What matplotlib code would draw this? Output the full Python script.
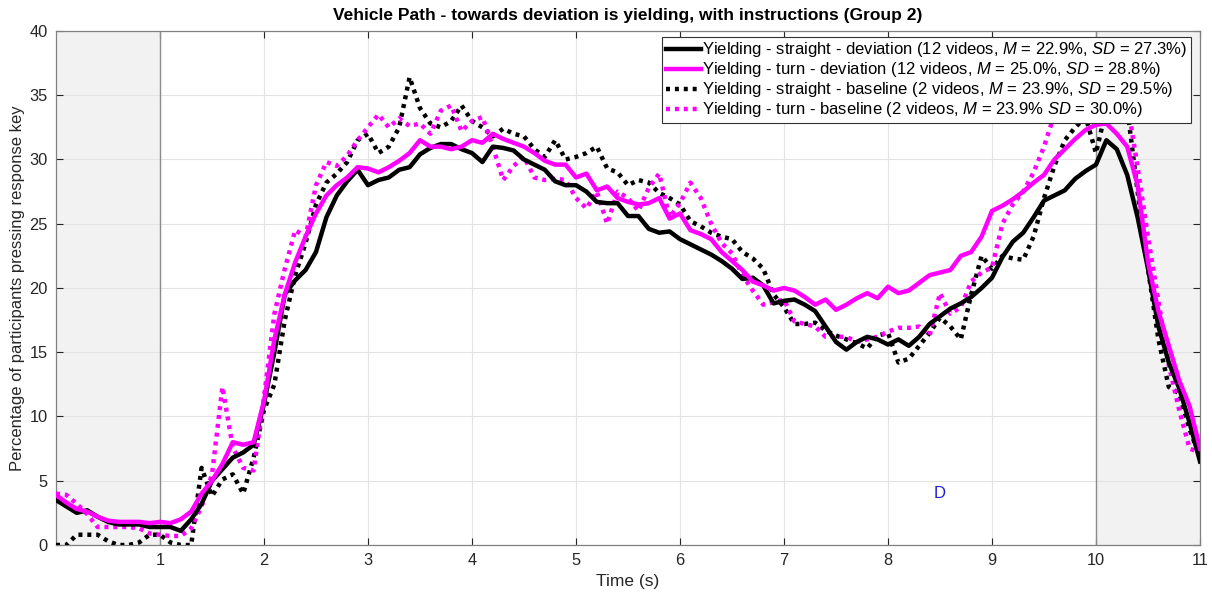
import numpy as np
import matplotlib
matplotlib.use("Agg")
import matplotlib.pyplot as plt

plt.rcParams['font.family'] = ['Liberation Sans', 'DejaVu Sans']
plt.rcParams['mathtext.fontset'] = 'custom'
plt.rcParams['mathtext.it'] = 'Liberation Sans:italic'
plt.rcParams['mathtext.rm'] = 'Liberation Sans'

# Time axis (s), sampled every 0.1 s
time_s = np.round(np.arange(0, 111) * 0.1, 1)

straight_deviation = [
    3.5, 3.0, 2.5, 2.7, 2.2, 1.8, 1.6, 1.6, 1.6, 1.4,
    1.4, 1.4, 1.1, 2.0, 3.2, 5.0, 5.9, 6.8, 7.2, 7.8,
    11.0, 15.0, 19.5, 20.6, 21.4, 22.8, 25.5, 27.2, 28.3, 29.2,
    28.0, 28.4, 28.6, 29.2, 29.4, 30.4, 30.9, 31.2, 31.2, 30.8,
    30.5, 29.8, 31.0, 30.9, 30.7, 30.0, 29.6, 29.2, 28.3, 28.0,
    28.0, 27.5, 26.7, 26.6, 26.6, 25.6, 25.6, 24.6, 24.3, 24.4,
    23.8, 23.4, 23.0, 22.6, 22.1, 21.5, 20.7, 20.8, 20.2, 18.8,
    19.0, 19.1, 18.7, 18.2, 17.0, 15.8, 15.2, 15.8, 16.2, 16.0,
    15.6, 16.0, 15.5, 16.2, 17.2, 17.8, 18.4, 18.8, 19.3, 20.0,
    20.8, 22.4, 23.6, 24.3, 25.5, 26.8, 27.2, 27.6, 28.5, 29.1,
    29.6, 31.5, 30.8, 28.8, 25.5, 21.5, 17.0, 14.2, 12.2, 9.5,
    6.5,
]

turn_deviation = [
    3.9, 3.3, 2.8, 2.6, 2.2, 1.9, 1.8, 1.8, 1.8, 1.7,
    1.8, 1.7, 2.0, 2.6, 4.0, 5.0, 6.3, 8.0, 7.8, 8.0,
    11.2, 16.0, 19.5, 22.0, 24.0, 25.8, 27.2, 28.0, 28.6, 29.4,
    29.3, 29.0, 29.4, 29.9, 30.5, 31.5, 31.0, 31.0, 30.8, 31.0,
    31.5, 31.3, 32.0, 31.6, 31.3, 31.0, 30.5, 29.9, 29.6, 29.6,
    28.6, 28.9, 27.6, 27.9, 27.0, 26.7, 26.5, 26.6, 27.0, 25.4,
    25.8, 24.5, 24.2, 23.8, 22.8, 22.1, 21.4, 20.5, 20.2, 19.8,
    20.0, 19.8, 19.3, 18.7, 19.1, 18.3, 18.7, 19.2, 19.6, 19.2,
    20.1, 19.6, 19.8, 20.4, 21.0, 21.2, 21.4, 22.5, 22.8, 24.0,
    26.0, 26.4, 26.9, 27.5, 28.2, 28.8, 30.0, 30.8, 31.6, 32.3,
    32.7, 32.8, 32.0, 31.0, 28.0, 22.0, 18.2, 15.5, 12.8, 10.8,
    7.5,
]

straight_baseline = [
    0.0, 0.0, 0.8, 0.8, 0.8, 0.3, 0.0, 0.0, 0.2, 0.8,
    0.8, 0.2, 0.0, 0.0, 6.0, 3.8, 5.1, 5.5, 4.0, 6.8,
    10.5, 12.5, 17.5, 21.0, 23.5, 26.5, 28.2, 28.9, 29.8, 31.5,
    32.0, 30.5, 31.0, 32.5, 36.4, 34.0, 32.8, 32.5, 33.0, 34.2,
    33.0, 32.5, 31.8, 32.4, 32.0, 31.8, 30.8, 30.2, 31.5, 30.0,
    30.2, 30.5, 31.0, 29.3, 29.0, 28.0, 28.4, 28.2, 27.4, 27.0,
    26.5, 25.2, 24.8, 24.3, 24.0, 23.8, 22.8, 22.3, 21.5, 19.5,
    18.5, 17.2, 17.2, 17.3, 16.7, 16.3, 16.0, 15.7, 15.3, 16.3,
    16.5, 14.2, 14.5, 15.5, 16.5, 17.7, 17.0, 16.0, 19.5, 22.5,
    21.5, 22.5, 22.3, 22.2, 24.0, 27.0, 29.5, 31.5, 32.5, 33.3,
    30.5, 34.0, 35.0, 34.0, 27.5, 21.5, 16.0, 12.3, 11.8, 9.0,
    6.8,
]

turn_baseline = [
    4.0, 3.9, 3.2, 2.4, 1.4, 1.4, 1.4, 1.4, 1.3, 0.9,
    0.8, 0.7, 0.7, 1.3, 3.0, 5.5, 12.3, 7.6, 6.0, 5.8,
    11.5, 18.0, 21.5, 24.5, 24.0, 28.0, 29.8, 29.5, 30.3, 31.5,
    32.5, 33.5, 32.5, 33.2, 32.6, 32.8, 32.0, 33.8, 34.2, 32.2,
    33.0, 33.3, 31.0, 28.4, 29.5, 30.2, 28.6, 28.4, 28.5, 28.4,
    27.0, 26.2, 27.5, 25.0, 27.5, 27.0, 26.0, 27.8, 28.9, 25.5,
    26.6, 28.2, 27.0, 25.0, 23.5, 22.7, 21.0, 19.8, 18.7, 18.9,
    19.1, 17.4, 17.2, 17.0, 16.2, 16.2, 16.2, 15.8, 16.0, 16.2,
    16.6, 16.9, 16.9, 17.0, 16.3, 19.6, 18.0, 18.5, 20.5, 21.2,
    21.6, 25.0, 26.5, 27.5, 29.0, 31.0, 33.5, 35.5, 35.5, 34.5,
    34.0, 33.5, 34.0, 34.5, 29.4, 24.0, 19.0, 14.0, 10.5, 7.5,
    7.2,
]

series_labels = [
    "Yielding - straight - deviation (12 videos, $M$ = 22.9%, $SD$ = 27.3%)",
    "Yielding - turn - deviation (12 videos, $M$ = 25.0%, $SD$ = 28.8%)",
    "Yielding - straight - baseline (2 videos, $M$ = 23.9%, $SD$ = 29.5%)",
    "Yielding - turn - baseline (2 videos, $M$ = 23.9% $SD$ = 30.0%)",
]

shaded_spans = [(0, 1), (10, 11)]
x_ticks = list(range(1, 12))
y_ticks = list(range(0, 41, 5))

fig = plt.figure(figsize=(12.12, 5.97), dpi=100)
ax = fig.add_axes([0.0462, 0.0871, 0.9439, 0.861])

for a, b in shaded_spans:
    ax.axvspan(a, b, color='#f2f2f2', zorder=0, lw=0)
ax.axvline(1, color='#8c8c8c', lw=1.0, zorder=1)
ax.axvline(10, color='#8c8c8c', lw=1.0, zorder=1)

dot = (0, (0.9, 1.1))
ax.plot(time_s, straight_deviation, color='black', lw=3.2, label=series_labels[0], zorder=5)
ax.plot(time_s, turn_deviation, color='#ff00ff', lw=3.2, label=series_labels[1], zorder=5)
ax.plot(time_s, straight_baseline, color='black', lw=3.2, ls=dot, label=series_labels[2], zorder=4)
ax.plot(time_s, turn_baseline, color='#ff00ff', lw=3.2, ls=dot, label=series_labels[3], zorder=4)

ax.text(8.5, 4.0, "D", color='#1f1fd0', fontsize=12, ha='center', va='center')

ax.set_xlim(0, 11)
ax.set_ylim(0, 40)
ax.set_xticks(x_ticks)
ax.set_yticks(y_ticks)
ax.tick_params(direction='in', top=True, right=True, labelsize=11.8,
               colors='#262626', length=5, width=0.8, pad=6)
ax.grid(True, color='#e3e3e3', lw=0.8)
ax.set_axisbelow(True)
for sp in ax.spines.values():
    sp.set_color('#808080')
    sp.set_linewidth(0.9)

ax.set_xlabel("Time (s)", fontsize=12.5, color='#262626', labelpad=4)
ax.set_ylabel("Percentage of participants pressing response key", fontsize=12,
              color='#262626', labelpad=3)
ax.set_title("Vehicle Path - towards deviation is yielding, with instructions (Group 2)",
             fontsize=12.5, fontweight='bold', pad=8)

leg = ax.legend(loc='upper right', bbox_to_anchor=(0.992, 0.988), borderaxespad=0,
                fontsize=12, frameon=True, fancybox=False, framealpha=1,
                edgecolor='#333333', handlelength=2.1, handletextpad=0.1,
                labelspacing=0.06, borderpad=0.2)
leg.set_zorder(10)
leg.get_frame().set_linewidth(0.8)

fig.savefig("out.png", dpi=100)
